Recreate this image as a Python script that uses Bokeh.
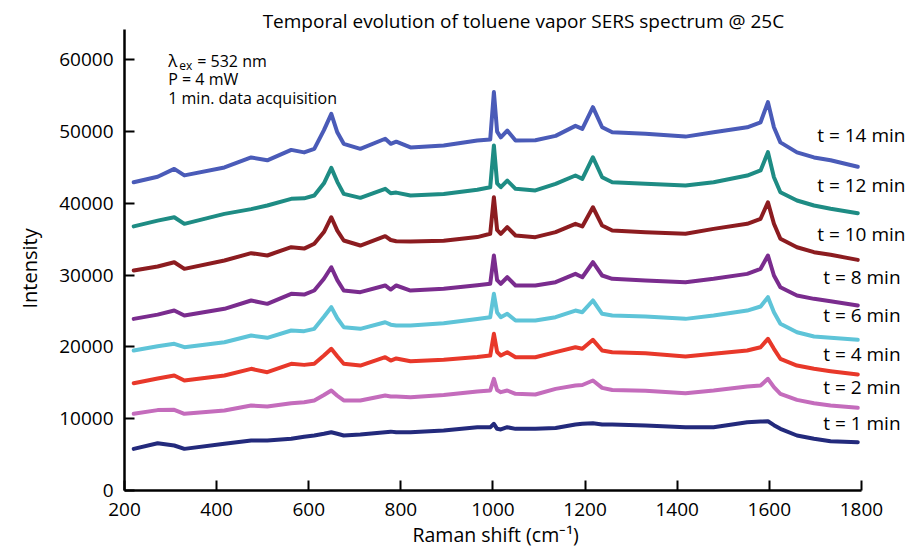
from bokeh.plotting import figure
from bokeh.models import Range1d, FixedTicker, Title
from bokeh.core.properties import value
from bokeh.embed import file_html
from bokeh.resources import INLINE

# Raman shift (cm^-1) sample positions
raman_shift = [220, 272, 308, 330, 417, 475, 510, 562, 590, 612, 633, 649, 662, 676, 712,
               766, 778, 790, 821, 893, 966, 994, 1002, 1009, 1017, 1031, 1049, 1092, 1136,
               1179, 1194, 1217, 1237, 1259, 1331, 1418, 1479, 1552, 1581, 1597, 1610, 1624,
               1660, 1697, 1733, 1792]

t14 = [42950, 43700, 44800, 43900, 45000, 46400, 46000, 47450, 47100, 47600, 50200, 52470, 49900, 48300, 47600,
       49000, 48300, 48600, 47800, 48060, 48750, 48900, 55500, 50000, 49200, 50150, 48750, 48800, 49400,
       50800, 50380, 53400, 50600, 49900, 49700, 49300, 49900, 50600, 51300, 54100, 50600, 48500,
       47100, 46400, 46000, 45100]
t12 = [36800, 37600, 38070, 37150, 38540, 39200, 39700, 40630, 40700, 41090, 42800, 44950, 43000, 41330, 40770,
       42030, 41400, 41500, 41100, 41300, 41900, 42250, 48060, 42800, 42250, 43180, 42030, 41800, 42720,
       43880, 43420, 46430, 43640, 42950, 42720, 42490, 42950, 43880, 44580, 47130, 43640, 41560,
       40400, 39700, 39240, 38630]
t10 = [30650, 31200, 31800, 30880, 32040, 33060, 32740, 33890, 33700, 34370, 36000, 38070, 36200, 34830, 34130,
       35430, 34900, 34730, 34700, 34800, 35300, 35760, 40860, 36300, 35760, 36680, 35520, 35290, 35990,
       37150, 36780, 39460, 36910, 36220, 35990, 35760, 36450, 37150, 37850, 40160, 37150, 35060,
       33890, 33200, 32830, 32130]
t8 = [23910, 24500, 25070, 24380, 25310, 26470, 26000, 27400, 27300, 27860, 29500, 31100, 29300, 27860, 27630,
      28560, 28000, 28560, 27860, 28100, 28600, 28790, 32740, 29300, 28800, 29710, 28560, 28560, 29020,
      30180, 29710, 31800, 29950, 29490, 29250, 29020, 29490, 30180, 30880, 32740, 29950, 28320,
      27160, 26700, 26370, 25770]
t6 = [19500, 20100, 20440, 19960, 20660, 21590, 21270, 22290, 22200, 22520, 24200, 25540, 24000, 22750, 22520,
      23440, 23100, 22980, 23000, 23300, 23900, 24140, 27400, 24800, 24140, 24610, 23680, 23680, 24140,
      25070, 24840, 26470, 24610, 24380, 24240, 23910, 24380, 25070, 25630, 26930, 24840, 23220,
      22050, 21450, 21270, 20990]
t4 = [14950, 15600, 16020, 15320, 16020, 16950, 16480, 17650, 17500, 17650, 18800, 19740, 18700, 17650, 17410,
      18570, 18100, 18400, 18000, 18200, 18600, 18800, 21830, 19300, 18800, 19270, 18570, 18570, 19270,
      19960, 19740, 20990, 19500, 19270, 19130, 18670, 19040, 19500, 19960, 21130, 19740, 18350,
      17410, 16950, 16620, 16160]
t2 = [10680, 11200, 11240, 10680, 11140, 11840, 11700, 12160, 12300, 12540, 13300, 13930, 13200, 12540, 12540,
      13230, 13100, 13100, 13000, 13300, 13800, 13930, 15560, 14000, 13700, 13930, 13470, 13370, 14160,
      14630, 14700, 15320, 14300, 14000, 13900, 13560, 13930, 14490, 14630, 15560, 14390, 13470,
      12630, 12160, 11840, 11520]
t1 = [5800, 6590, 6270, 5800, 6500, 6970, 6970, 7200, 7500, 7660, 7900, 8120, 7900, 7660, 7800,
      8120, 8200, 8100, 8120, 8360, 8820, 8800, 9290, 8590, 8500, 8820, 8590, 8590, 8700,
      9190, 9300, 9380, 9200, 9190, 9050, 8820, 8820, 9510, 9600, 9650, 9100, 8590,
      7660, 7200, 6870, 6730]

series = [t14, t12, t10, t8, t6, t4, t2, t1]
series_labels = ["t = 14 min", "t = 12 min", "t = 10 min", "t = 8 min",
                 "t = 6 min", "t = 4 min", "t = 2 min", "t = 1 min"]
colors = ["#4a5bb8", "#1e8c84", "#8c1c20", "#7a2c8e", "#5ec4d8", "#e8382a", "#c46cbc", "#232a7c"]

x_ticks = [200, 400, 600, 800, 1000, 1200, 1400, 1600, 1800]
y_ticks = [0, 10000, 20000, 30000, 40000, 50000, 60000]

FONT = "Open Sans"

# frame: x 200..1800 -> 124..861 px, y 0..60000 -> 490..59 px
p = figure(width=917, height=554, output_backend="svg", toolbar_location=None,
           x_range=Range1d(200, 1921.7), y_range=Range1d(0, 68262),
           min_border_left=124, min_border_right=0, min_border_top=0, min_border_bottom=64)
p.outline_line_color = None
p.grid.visible = False
p.background_fill_color = "white"
p.border_fill_color = "white"

for ax, ticks, bounds in ((p.xaxis[0], x_ticks, (200, 1800)), (p.yaxis[0], y_ticks, (0, 64200))):
    ax.ticker = FixedTicker(ticks=ticks)
    ax.bounds = bounds
    ax.major_tick_in = 10
    ax.major_tick_out = 0
    ax.minor_tick_in = 0
    ax.minor_tick_out = 0
    ax.axis_line_width = 2.5
    ax.axis_line_color = "black"
    ax.major_tick_line_width = 2
    ax.major_tick_line_color = "black"
    ax.major_label_text_font = FONT
    ax.major_label_text_font_size = "19px"
    ax.major_label_text_color = "black"

p.xaxis[0].major_label_standoff = 12
p.yaxis[0].major_label_standoff = 11

# axis titles, placed so that they are centred on the axis extents
p.add_layout(Title(text="Raman shift (cm\u207b\u00b9)", align="left", offset=288, standoff=0,
                   text_font=FONT, text_font_size="19.5px", text_font_style="normal",
                   text_color="black"), "below")
p.add_layout(Title(text="Intensity", align="left", offset=182, standoff=27,
                   text_font=FONT, text_font_size="20px", text_font_style="normal",
                   text_color="black"), "left")

for ys, c in zip(series, colors):
    p.line(raman_shift, ys, line_color=c, line_width=4, line_join="round", line_cap="round")

# curve labels at the right
label_x = [1704, 1704, 1704, 1717, 1717, 1717, 1717, 1717]
label_y = [49500, 42550, 35720, 29800, 24450, 19000, 14420, 9400]
p.text(label_x, label_y, text=series_labels, text_font=value(FONT), text_font_size="19px",
       text_color="black", text_align="left", text_baseline="middle")

# title
p.text([1066], [65475], text=["Temporal evolution of toluene vapor SERS spectrum @ 25C"],
       text_font=value(FONT), text_font_size="19px", text_color="black",
       text_align="center", text_baseline="middle")

# acquisition notes
p.text([295], [59900], text=["\u03bb"], text_font=value(FONT), text_font_size="17px",
       text_color="black", text_align="left", text_baseline="middle")
p.text([319], [59150], text=["ex"], text_font=value(FONT), text_font_size="12px",
       text_color="black", text_align="left", text_baseline="middle")
p.text([358], [59800], text=["= 532 nm"], text_font=value(FONT), text_font_size="16px",
       text_color="black", text_align="left", text_baseline="middle")
p.text([295, 295], [57350, 54650], text=["P = 4 mW", "1 min. data acquisition"],
       text_font=value(FONT), text_font_size="16px", text_color="black",
       text_align="left", text_baseline="middle")

open("out.html", "w").write(file_html(p, INLINE))
